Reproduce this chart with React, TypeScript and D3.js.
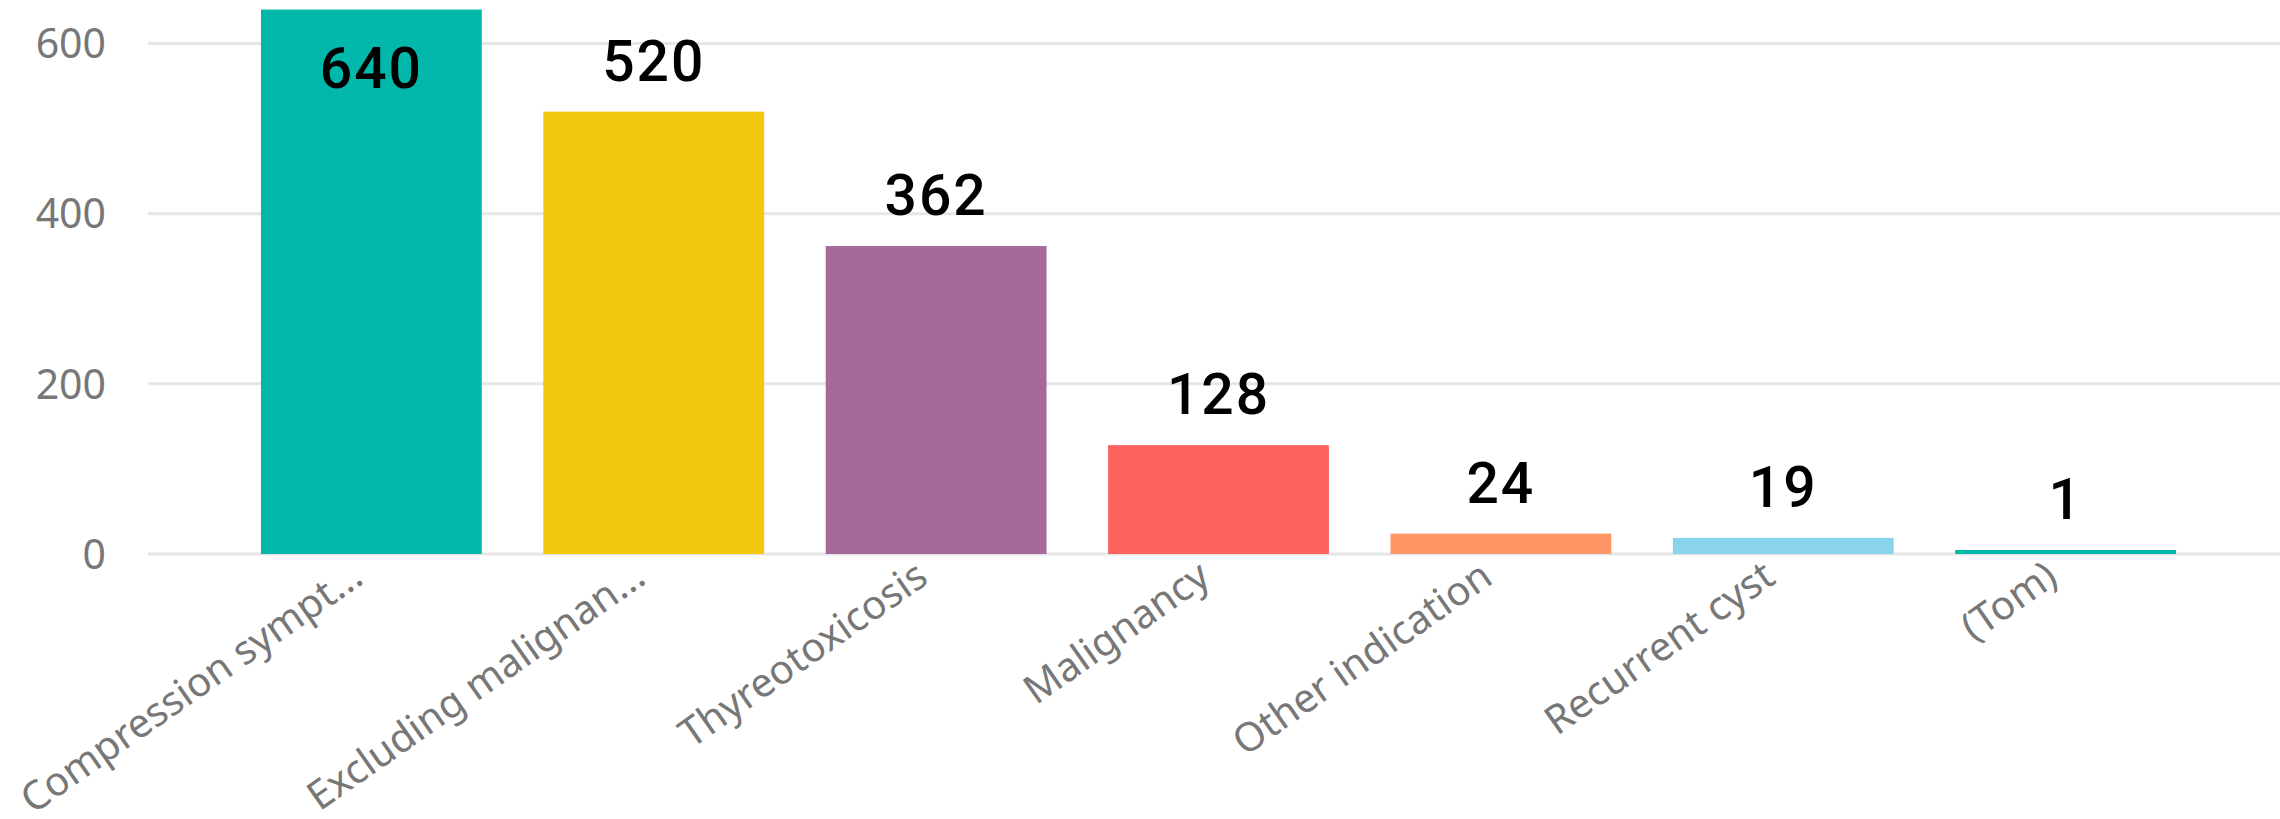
import { useRef, useEffect } from "react";
import * as d3 from "d3";

const categories = [
  "Compression sympt...",
  "Excluding malignan...",
  "Thyreotoxicosis",
  "Malignancy",
  "Other indication",
  "Recurrent cyst",
  "(Tom)",
];
const values = [640, 520, 362, 128, 24, 19, 1];
const barColors = ["#01B8AA", "#F2C80F", "#A66999", "#FD625E", "#FE9666", "#8AD4EB", "#01B8AA"];
const yTicks = [0, 200, 400, 600];

const App = () => {
  const svgRef = useRef<SVGSVGElement>(null);

  useEffect(() => {
    const svg = d3.select(svgRef.current);
    svg.selectAll("*").remove();

    const width = 2280;
    const height = 819;
    const plotLeft = 148;
    const minBar = 4; // tiny values still get a visible sliver

    const xScale = d3
      .scaleBand()
      .domain(categories)
      .range([plotLeft, 2289])
      .paddingInner(0.218)
      .paddingOuter(0.4);

    const yScale = d3.scaleLinear().domain([0, 600]).range([554, 43.6]);

    svg.attr("width", width).attr("height", height);

    // gridlines
    svg
      .append("g")
      .selectAll("line")
      .data(yTicks)
      .join("line")
      .attr("x1", plotLeft)
      .attr("x2", width)
      .attr("y1", (d) => yScale(d))
      .attr("y2", (d) => yScale(d))
      .attr("stroke", "#E6E6E6")
      .attr("stroke-width", 3);

    // y tick labels
    svg
      .append("g")
      .selectAll("text")
      .data(yTicks)
      .join("text")
      .attr("x", 106)
      .attr("y", (d) => yScale(d))
      .attr("dy", "0.36em")
      .attr("text-anchor", "end")
      .attr("fill", "#777777")
      .attr("font-family", "'Noto Sans', sans-serif")
      .attr("font-size", 41)
      .text((d) => d);

    const rows = categories.map((c, i) => ({ cat: c, value: values[i], color: barColors[i] }));
    const barTop = (v: number) => Math.min(yScale(v), yScale(0) - minBar);

    // bars
    svg
      .append("g")
      .selectAll("rect")
      .data(rows)
      .join("rect")
      .attr("x", (d) => xScale(d.cat)!)
      .attr("width", xScale.bandwidth())
      .attr("y", (d) => barTop(d.value))
      .attr("height", (d) => yScale(0) - barTop(d.value))
      .attr("fill", (d) => d.color);

    // data labels, inside the bar when there's no room above
    svg
      .append("g")
      .selectAll("text")
      .data(rows)
      .join("text")
      .attr("x", (d) => xScale(d.cat)! + xScale.bandwidth() / 2)
      .attr("y", (d) => {
        const top = barTop(d.value);
        return top - 31 - 42 < 0 ? top + 78 : top - 31;
      })
      .attr("text-anchor", "middle")
      .attr("fill", "#000")
      .attr("font-family", "Roboto, sans-serif")
      .attr("font-weight", 500)
      .attr("font-size", 57)
      .attr("letter-spacing", 2)
      .text((d) => d.value);

    // rotated category labels
    svg
      .append("g")
      .selectAll("text")
      .data(categories)
      .join("text")
      .attr(
        "transform",
        (d) => `translate(${xScale(d)! + xScale.bandwidth() / 2 - 6}, ${yScale(0) + 28}) rotate(-35)`
      )
      .attr("text-anchor", "end")
      .attr("fill", "#777777")
      .attr("font-family", "'Noto Sans', sans-serif")
      .attr("font-size", 40)
      .text((d) => d);
  }, []);

  return (
    <svg
      ref={svgRef}
      style={{ position: "absolute", left: 0, top: 0, display: "block", background: "#fff" }}
    ></svg>
  );
};

export default App;
